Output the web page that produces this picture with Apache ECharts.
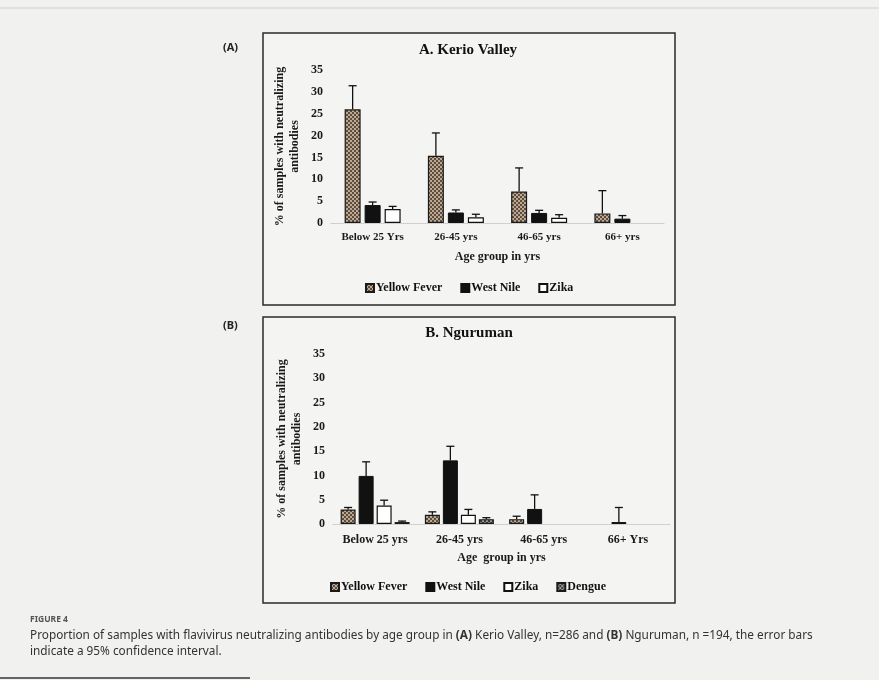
<!DOCTYPE html>
<html><head><meta charset="utf-8">
<script src="https://cdn.jsdelivr.net/npm/echarts@6/dist/echarts.min.js"></script>
<style>html,body{margin:0;padding:0;background:#f1f1ef}#c{width:879px;height:680px}</style>
</head><body><div id="c"></div>
<script>
// ---- data ----
const categoriesA = ['Below 25 Yrs', '26-45 yrs', '46-65 yrs', '66+ yrs'];
const categoriesB = ['Below 25 yrs', '26-45 yrs', '46-65 yrs', '66+ Yrs'];
const yTicks = [0, 5, 10, 15, 20, 25, 30, 35];
// Panel A: Kerio Valley (null = no bar drawn)
const yellowFeverA = [26.0, 15.4, 7.2, 2.2];
const yellowFeverAUpper = [31.4, 20.6, 12.6, 7.4];
const westNileA = [4.1, 2.4, 2.3, 1.0];
const westNileAUpper = [4.8, 3.0, 2.9, 1.7];
const zikaA = [3.2, 1.3, 1.2, null];
const zikaAUpper = [3.8, 2.0, 1.9, null];
// Panel B: Nguruman
const yellowFeverB = [3.0, 1.9, 1.0, null];
const yellowFeverBUpper = [3.4, 2.5, 1.6, null];
const westNileB = [9.9, 13.1, 3.1, 0.4];
const westNileBUpper = [12.8, 16.0, 6.0, 3.4];
const zikaB = [3.8, 1.9, null, null];
const zikaBUpper = [4.9, 3.0, null, null];
const dengueB = [0.4, 1.0, null, null];
const dengueBUpper = [0.6, 1.3, null, null];

// ---- styles ----
function pattern(a, b) {
  const c = document.createElement('canvas');
  c.width = 4; c.height = 4;
  const g = c.getContext('2d');
  g.fillStyle = a; g.fillRect(0, 0, 4, 4);
  g.fillStyle = b;
  g.fillRect(0, 0, 2, 2); g.fillRect(2, 2, 2, 2);
  return { image: c, repeat: 'repeat' };
}
const SERIF = 'Liberation Serif';
const styleYF = { color: pattern('#bba994', '#5e4c3c'), borderColor: '#1a1a1a', borderWidth: 1.2 };
const styleWN = { color: '#111111', borderColor: '#111', borderWidth: 1 };
const styleZK = { color: '#ffffff', borderColor: '#111', borderWidth: 1.2 };
const styleDG = { color: pattern('#9a9a9a', '#3a3a3a'), borderColor: '#1a1a1a', borderWidth: 1.2 };

function errSeries(name, values, upper, gridIdx, offset) {
  const data = values.map((v, i) => [i, v === null ? 0 : v, upper[i] === null ? '-' : upper[i]]);
  return {
    type: 'custom', name: name + ' CI', xAxisIndex: gridIdx, yAxisIndex: gridIdx, z: 5,
    silent: true,
    data: data,
    renderItem: function (params, api) {
      const hi = api.value(2);
      if (hi === null || isNaN(hi)) return null;
      const base = api.coord([api.value(0), api.value(1)]);
      const top = api.coord([api.value(0), hi]);
      const x = base[0] + offset;
      return {
        type: 'group', children: [
          { type: 'line', shape: { x1: x, y1: base[1], x2: x, y2: top[1] }, style: { stroke: '#111', lineWidth: 1.3 } },
          { type: 'line', shape: { x1: x - 4, y1: top[1], x2: x + 4, y2: top[1] }, style: { stroke: '#111', lineWidth: 1.3 } }
        ]
      };
    }
  };
}
function barSeries(name, values, gridIdx, style, w, gap) {
  return {
    type: 'bar', name: name, xAxisIndex: gridIdx, yAxisIndex: gridIdx,
    data: values.map(v => v === null ? '-' : v), barWidth: w, barGap: gap, itemStyle: style
  };
}

const axisFont = { fontFamily: SERIF, fontWeight: 'bold', color: '#1a1a1a' };

function yAx(gridIdx) {
  return {
    type: 'value', gridIndex: gridIdx, min: 0, max: 35, interval: 5,
    axisLine: { show: false }, axisTick: { show: false }, splitLine: { show: false },
    axisLabel: Object.assign({ fontSize: 12, margin: 8 }, axisFont),
    name: '% of samples with neutralizing\nantibodies', nameLocation: 'middle', nameGap: 29,
    nameTextStyle: Object.assign({ fontSize: 12, lineHeight: 15 }, axisFont)
  };
}
function xAx(gridIdx, cats, fs, margin) {
  return {
    type: 'category', gridIndex: gridIdx, data: cats,
    axisLine: { show: true, lineStyle: { color: '#c8c8c8', type: 'dotted', width: 1 } },
    axisTick: { show: false },
    axisLabel: Object.assign({ fontSize: fs, margin: margin, interval: 0 }, axisFont),
    name: gridIdx === 0 ? 'Age group in yrs' : 'Age  group in yrs',
    nameLocation: 'middle', nameGap: 28,
    nameTextStyle: Object.assign({ fontSize: 12 }, axisFont)
  };
}

const chart = echarts.init(document.getElementById('c'), null, { renderer: 'canvas' });
chart.setOption({
  backgroundColor: '#f1f1ef',
  animation: false,
  title: [
    { text: 'A. Kerio Valley', left: 463, top: 38, textAlign: 'center',
      textStyle: { fontFamily: SERIF, fontWeight: 'bold', fontSize: 15, color: '#111' } },
    { text: 'B. Nguruman', left: 464, top: 321, textAlign: 'center',
      textStyle: { fontFamily: SERIF, fontWeight: 'bold', fontSize: 15, color: '#111' } }
  ],
  legend: [
    { data: ['Yellow Fever', 'West Nile', 'Zika'], left: 365, top: 282, icon: 'rect',
      itemWidth: 8, itemHeight: 8, itemGap: 18, padding: 0,
      textStyle: { fontFamily: SERIF, fontWeight: 'bold', fontSize: 12, color: '#111', padding: [0, 0, 0, -3] }, selectedMode: false },
    { data: ['Yellow Fever', 'West Nile', 'Zika', 'Dengue'], left: 330, top: 581, icon: 'rect',
      itemWidth: 8, itemHeight: 8, itemGap: 18, padding: 0,
      textStyle: { fontFamily: SERIF, fontWeight: 'bold', fontSize: 12, color: '#111', padding: [0, 0, 0, -3] }, selectedMode: false }
  ],
  grid: [
    { left: 331, width: 333, top: 70, height: 153 },
    { left: 333, width: 337, top: 354, height: 170 }
  ],
  xAxis: [xAx(0, categoriesA, 11, 9), xAx(1, categoriesB, 12, 10)],
  yAxis: [yAx(0), yAx(1)],
  series: [
    barSeries('Yellow Fever', yellowFeverA, 0, styleYF, 16, '25%'),
    barSeries('West Nile', westNileA, 0, styleWN, 16, '25%'),
    barSeries('Zika', zikaA, 0, styleZK, 16, '25%'),
    errSeries('Yellow Fever', yellowFeverA, yellowFeverAUpper, 0, -20),
    errSeries('West Nile', westNileA, westNileAUpper, 0, 0),
    errSeries('Zika', zikaA, zikaAUpper, 0, 20),
    barSeries('Yellow Fever', yellowFeverB, 1, styleYF, 15, '20%'),
    barSeries('West Nile', westNileB, 1, styleWN, 15, '20%'),
    barSeries('Zika', zikaB, 1, styleZK, 15, '20%'),
    barSeries('Dengue', dengueB, 1, styleDG, 15, '20%'),
    errSeries('Yellow Fever', yellowFeverB, yellowFeverBUpper, 1, -27),
    errSeries('West Nile', westNileB, westNileBUpper, 1, -9),
    errSeries('Zika', zikaB, zikaBUpper, 1, 9),
    errSeries('Dengue', dengueB, dengueBUpper, 1, 27)
  ],
  graphic: [
    { type: 'line', shape: { x1: 0, y1: 8, x2: 879, y2: 8 }, style: { stroke: '#cfcfcd', lineWidth: 1 } },
    { type: 'rect', shape: { x: 263, y: 33, width: 412, height: 272 }, style: { fill: 'rgba(255,255,255,0.25)', stroke: '#2a2a2a', lineWidth: 1.5 }, z: -1 },
    { type: 'rect', shape: { x: 263, y: 317, width: 412, height: 286 }, style: { fill: 'rgba(255,255,255,0.25)', stroke: '#2a2a2a', lineWidth: 1.5 }, z: -1 },
    { type: 'text', left: 223, top: 42, style: { text: '(A)', font: 'bold 11px "Noto Sans"', fill: '#222' } },
    { type: 'text', left: 223, top: 320, style: { text: '(B)', font: 'bold 11px "Noto Sans"', fill: '#222' } },
    { type: 'text', left: 30, top: 615, style: { text: 'FIGURE 4', font: 'bold 8.5px "Noto Sans"', fill: '#555' } },
    { type: 'text', left: 30, top: 628, style: {
      text: 'Proportion of samples with flavivirus neutralizing antibodies by age group in {b|(A)} Kerio Valley, n=286 and {b|(B)} Nguruman, n =194, the error bars\nindicate a 95% confidence interval.',
      font: '11.8px "Noto Sans"', fill: '#333', lineHeight: 16,
      rich: { b: { font: 'bold 11.8px "Noto Sans"', fill: '#333', lineHeight: 16 } } } },
    { type: 'line', shape: { x1: 0, y1: 678, x2: 250, y2: 678 }, style: { stroke: '#666', lineWidth: 2 } }
  ]
});
</script></body></html>
